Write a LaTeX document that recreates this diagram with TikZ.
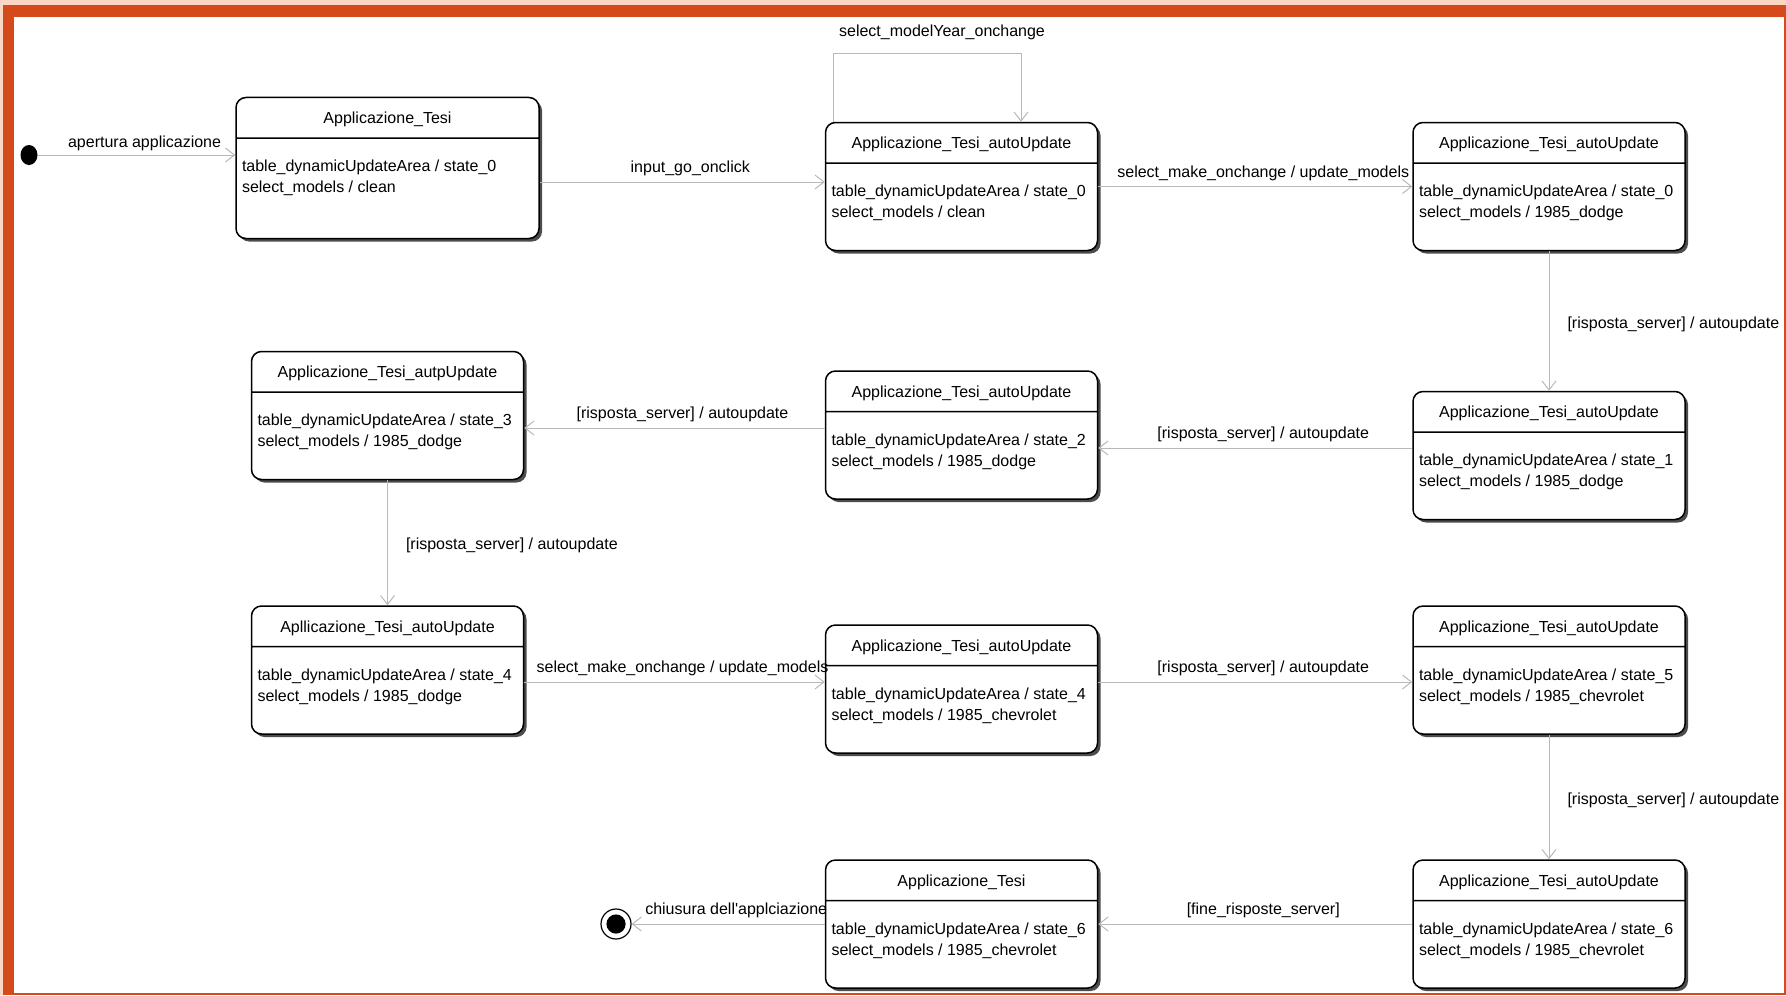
\documentclass[tikz,border=0pt]{standalone}
\usepackage{fontspec}
\usetikzlibrary{shapes.multipart,shapes.geometric,shadows,arrows.meta}
\newfontfamily\umlfont{Liberation Sans}
\definecolor{frameorange}{RGB}{212,74,26}
\definecolor{framepeach}{RGB}{250,214,196}
\definecolor{transgray}{RGB}{185,185,185}
\newcommand{\bodytop}{\rule{0pt}{13.5pt}}
\newcommand{\bodyend}[1][13pt]{\rule[-#1]{0pt}{0pt}}
\tikzset{
  state/.style={rectangle split, rectangle split parts=2,
    rectangle split part align={center,left}, align=left,
    draw=black, line width=0.75pt, rounded corners=5pt, fill=white,
    inner xsep=3pt, inner ysep=3pt, minimum width=136pt,
    text height=9.75pt, text depth=3.75pt,
    drop shadow={shadow xshift=1.5pt, shadow yshift=-1.5pt, fill=black!70, opacity=1}},
  trans/.style={draw=transgray, line width=0.5pt, -{Straight Barb[length=4.5pt,width=7pt]}},
  lbl/.style={above, inner sep=2.5pt, text depth=2pt, xshift=4pt},
  vlbl/.style={right=7.5pt, inner sep=1.5pt, yshift=-1.5pt},
  initstate/.style={ellipse, fill=black, minimum width=8.5pt, minimum height=10pt, inner sep=0pt},
  finstate/.style={circle, draw=black, line width=0.6pt, minimum size=15pt, inner sep=0pt,
    path picture={\fill[black] (path picture bounding box.center) circle (4.8pt);}}
}

\begin{document}
\begin{tikzpicture}[x=0.5pt, y=-0.5pt, font=\fontsize{8pt}{10.5pt}\umlfont]
\useasboundingbox (0,0) rectangle (1786,995);
\fill[framepeach] (0,0) rectangle (1786,995);
\fill[frameorange] (3,5) rectangle (1785.5,995);
\fill[white] (14,17) rectangle (1783.5,992.5);

\node[initstate] (init) at (29,155) {};
\node[state, minimum width=151.5pt] (s1) at (387.5,168) {Applicazione\_Tesi \nodepart{two}\bodytop table\_dynamicUpdateArea / state\_0\\select\_models / clean\bodyend[19.5pt]};
\node[state] (s2) at (961.5,186.5) {Applicazione\_Tesi\_autoUpdate \nodepart{two}\bodytop table\_dynamicUpdateArea / state\_0\\select\_models / clean\bodyend};
\node[state] (s3) at (1549,186.5) {Applicazione\_Tesi\_autoUpdate \nodepart{two}\bodytop table\_dynamicUpdateArea / state\_0\\select\_models / 1985\_dodge\bodyend};
\node[state] (s4) at (1549,455.5) {Applicazione\_Tesi\_autoUpdate \nodepart{two}\bodytop table\_dynamicUpdateArea / state\_1\\select\_models / 1985\_dodge\bodyend};
\node[state] (s5) at (961.5,435) {Applicazione\_Tesi\_autoUpdate \nodepart{two}\bodytop table\_dynamicUpdateArea / state\_2\\select\_models / 1985\_dodge\bodyend};
\node[state] (s6) at (387.5,415.5) {Applicazione\_Tesi\_autpUpdate \nodepart{two}\bodytop table\_dynamicUpdateArea / state\_3\\select\_models / 1985\_dodge\bodyend};
\node[state] (s7) at (387.5,670) {Apllicazione\_Tesi\_autoUpdate \nodepart{two}\bodytop table\_dynamicUpdateArea / state\_4\\select\_models / 1985\_dodge\bodyend};
\node[state] (s8) at (961.5,689) {Applicazione\_Tesi\_autoUpdate \nodepart{two}\bodytop table\_dynamicUpdateArea / state\_4\\select\_models / 1985\_chevrolet\bodyend};
\node[state] (s9) at (1549,670) {Applicazione\_Tesi\_autoUpdate \nodepart{two}\bodytop table\_dynamicUpdateArea / state\_5\\select\_models / 1985\_chevrolet\bodyend};
\node[state] (s10) at (1549,924) {Applicazione\_Tesi\_autoUpdate \nodepart{two}\bodytop table\_dynamicUpdateArea / state\_6\\select\_models / 1985\_chevrolet\bodyend};
\node[state] (s11) at (961.5,924) {Applicazione\_Tesi \nodepart{two}\bodytop table\_dynamicUpdateArea / state\_6\\select\_models / 1985\_chevrolet\bodyend};
\node[finstate] (fin) at (616,924) {};

\coordinate (t12) at ([yshift=-7pt]s1.east);
\coordinate (t45) at ([yshift=3.75pt]s4.west);
\coordinate (t56) at ([yshift=3.5pt]s5.west);
\coordinate (t78) at ([yshift=-6pt]s7.east);
\coordinate (t89) at ([yshift=3.5pt]s8.east);
\coordinate (lpa) at (833,54);
\coordinate (lpb) at (1021,54);

\path (init) edge[trans] node[lbl, yshift=-1pt] {apertura applicazione} (init -| s1.west);
\path (t12) edge[trans] node[lbl] {input\_go\_onclick} (t12 -| s2.west);
\draw[trans] (s2.north -| lpa) |- (lpb) node[lbl, pos=0.75, xshift=3.5pt, yshift=4pt] {select\_modelYear\_onchange} -- (lpb |- s2.north);
\path (s2) edge[trans] node[lbl] {select\_make\_onchange / update\_models} (s3);
\path (s3) edge[trans] node[vlbl] {[risposta\_server] / autoupdate} (s4);
\path (t45) edge[trans] node[lbl] {[risposta\_server] / autoupdate} (t45 -| s5.east);
\path (t56) edge[trans] node[lbl] {[risposta\_server] / autoupdate} (t56 -| s6.east);
\path (s6) edge[trans] node[vlbl] {[risposta\_server] / autoupdate} (s7);
\path (t78) edge[trans] node[lbl] {select\_make\_onchange / update\_models} (t78 -| s8.west);
\path (t89) edge[trans] node[lbl] {[risposta\_server] / autoupdate} (t89 -| s9.west);
\path (s9) edge[trans] node[vlbl] {[risposta\_server] / autoupdate} (s10);
\path (s10) edge[trans] node[lbl] {[fine\_risposte\_server]} (s11);
\path (s11) edge[trans] node[lbl] {chiusura dell'applciazione} (fin);
\end{tikzpicture}
\end{document}
